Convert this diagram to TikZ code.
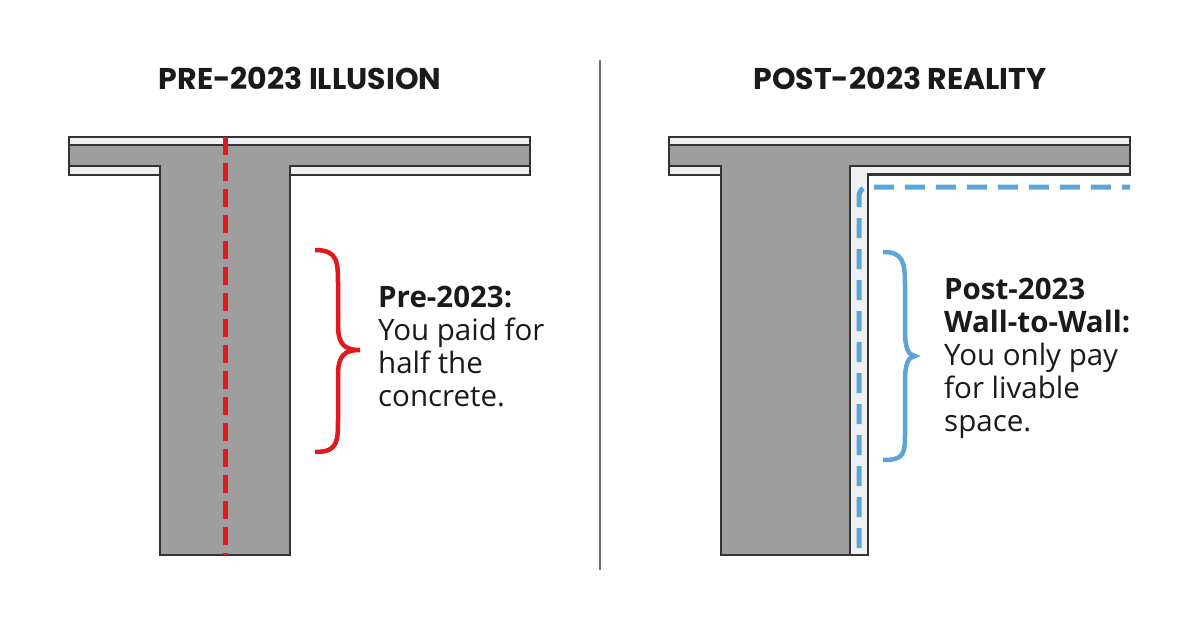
\documentclass[tikz,border=0pt]{standalone}
\usepackage{fontspec}
\setmainfont{Open Sans}
\newfontfamily\titlefont{Poppins}
\definecolor{conc}{HTML}{9E9E9E}
\definecolor{edge}{HTML}{333333}
\definecolor{finish}{HTML}{EDF1F3}
\definecolor{redl}{HTML}{E0191F}
\definecolor{bluel}{HTML}{5BA6D6}
\definecolor{txt}{HTML}{1A1A1A}
\begin{document}
\begin{tikzpicture}[x=1pt,y=-1pt,
  solid/.style={fill=conc,draw=edge,line width=2pt},
  lite/.style={fill=finish,draw=edge,line width=2pt},
  title/.style={font=\titlefont\bfseries\fontsize{30}{34}\selectfont,text=txt},
  body/.style={font=\fontsize{29.5}{33}\selectfont,text=txt,align=left,anchor=north west,inner sep=0pt}]
\useasboundingbox[fill=white] (0,0) rectangle (1200,630);
% left
\draw[lite] (69,137) rectangle (530,175);
\draw[solid] (69,145) -- (530,145) -- (530,166) -- (290,166) -- (290,555) -- (160,555) -- (160,166) -- (69,166) -- cycle;
\draw[redl,line width=5pt,dash pattern=on 18pt off 8pt] (225,137) -- (225,555);
\draw[redl,line width=4.5pt] (315,250) .. controls (338,250) and (338,262) .. (338,285) -- (338,325) .. controls (338,345) and (345,350) .. (360,350) .. controls (345,350) and (338,355) .. (338,375) -- (338,418) .. controls (338,442) and (338,452) .. (315,452);
\node[title] (tl) at (300,78) {PRE-2023 ILLUSION};
\node[body] (tx1) at (378,286) {\textbf{Pre-2023:}\\You paid for\\half the\\concrete.};
% divider
\draw[edge!70,line width=1.5pt] (600,60) -- (600,570);
% right
\draw[lite] (669,137) rectangle (1130,175);
\draw[solid] (669,145) -- (1130,145) -- (1130,166) -- (850,166) -- (850,555) -- (721,555) -- (721,166) -- (669,166) -- cycle;
\draw[fill=finish,draw=edge,line width=2pt] (850,166) -- (1130,166) -- (1130,174) -- (868,174) -- (868,555) -- (850,555) -- cycle;
\draw[bluel,line width=5pt,dash pattern=on 20pt off 11pt,rounded corners=9pt] (859,548) -- (859,187) -- (1130,187);
\draw[bluel,line width=4.5pt] (883,252) .. controls (903,252) and (905,262) .. (905,285) -- (905,330) .. controls (905,348) and (908,355) .. (915,356) .. controls (908,357) and (905,364) .. (905,382) -- (905,435) .. controls (905,455) and (903,460) .. (883,460);
\node[title] (tr) at (900,78) {POST-2023 REALITY};
\node[body] (tx2) at (944,278) {\textbf{Post-2023}\\\textbf{Wall-to-Wall:}\\You only pay\\for livable\\space.};
\end{tikzpicture}
\end{document}
